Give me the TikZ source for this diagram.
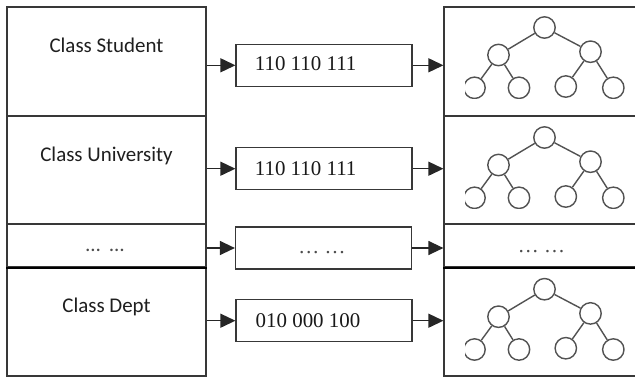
\documentclass[tikz,border=0pt]{standalone}
\usepackage{fontspec}
\setmainfont{Liberation Serif}
\newfontfamily\labelfont{Carlito}
\usetikzlibrary{arrows.meta}

\tikzset{
  tnode/.style={circle, draw=black!68, line width=1.4bp, minimum size=21.4bp, inner sep=0pt},
  tedge/.style={draw=black!68, line width=1.4bp},
  % small binary tree, cropped at the left and bottom
  bintree/.pic={
    \begin{scope}
      \clip (-79.5,-15) rectangle (90,71);
      \node[tnode] (r)  at (0,0) {};
      \node[tnode] (a)  at (-46,27.5) {};
      \node[tnode] (b)  at (46,24.2) {};
      \node[tnode] (a1) at (-70,60.3) {};
      \node[tnode] (a2) at (-25.5,60.3) {};
      \node[tnode] (b1) at (21.3,59) {};
      \node[tnode] (b2) at (68.8,60.3) {};
      \draw[tedge] (r) -- (a);
      \draw[tedge] (r) -- (b);
      \draw[tedge] (a) -- (a1);
      \draw[tedge] (a) -- (a2);
      \draw[tedge] (b) -- (b1);
      \draw[tedge] (b) -- (b2);
    \end{scope}
  }
}

\begin{document}
\begin{tikzpicture}[x=1bp,y=-1bp,
  frame/.style={draw=black!78, line width=1.2bp},
  cell/.style={frame, rectangle, inner sep=0pt, minimum width=199bp},
  rcell/.style={frame, rectangle, inner sep=0pt, minimum width=196bp},
  midbox/.style={frame, rectangle, inner sep=0pt, minimum width=176bp, minimum height=42bp},
  cls/.style={font=\labelfont\fontsize{21}{24}\selectfont, text=black!88, inner sep=0pt, anchor=base},
  bits/.style={font=\fontsize{21}{24}\selectfont, text=black!90, inner sep=0pt, anchor=base west},
  dots/.style={font=\fontsize{21}{24}\selectfont, text=black!70, inner sep=0pt, anchor=base},
  arr/.style={draw=black!85, line width=1.3bp, -{Triangle[length=15bp,width=14bp]}},
  sepline/.style={draw=black, line width=2.2bp},
]
\clip (0,0) rectangle (635,378);
\fill[white] (0,0) rectangle (635,378);

% class column
\node[cell, minimum height=109bp] (L1) at (106.5,61.5) {};
\node[cell, minimum height=108bp] (L2) at (106.5,170) {};
\node[cell, minimum height=43bp]  (L3) at (106.5,245.5) {};
\node[cell, minimum height=109bp] (L4) at (106.5,321.5) {};
\draw[sepline] (L3.south west) -- (L3.south east);

\node[cls] (t1) at (106.5,52.5) {Class Student};
\node[cls] (t2) at (106.5,161.5) {Class University};
\node[dots, font=\labelfont\fontsize{21}{24}\selectfont] (t3) at (105,251.5) {…\ \ …};
\node[cls] (t4) at (106.5,312.5) {Class Dept};

% tree column
\node[rcell, minimum height=109bp] (R1) at (542,61.5) {};
\node[rcell, minimum height=108bp] (R2) at (542,170) {};
\node[rcell, minimum height=43bp]  (R3) at (542,245.5) {};
\node[rcell, minimum height=109bp] (R4) at (542,321.5) {};
\draw[sepline] (R3.south west) -- (R3.south east);

\pic (T1) at (544.5,27.5) {bintree};
\pic (T2) at (544.5,137.5) {bintree};
\pic (T4) at (544.5,289.2) {bintree};
\node[dots] (r3) at (541.5,252) {… …};

% bit-string boxes
\node[midbox] (M1) at (324,65.3) {};
\node[midbox] (M2) at (324,168.7) {};
\node[midbox] (M3) at (323.5,248) {};
\node[midbox] (M4) at (324,320.7) {};

\node[bits] (b1) at (254.7,70.7) {110 110 111};
\node[bits] (b2) at (254.7,175) {110 110 111};
\node[dots] (b3) at (322,253.5) {… …};
\node[bits] (b4) at (255.5,327.3) {010 000 100};

% connectors
\foreach \i in {1,2,3,4}{
  \draw[arr] (M\i.west -| L\i.east) -- (M\i.west);
  \draw[arr] (M\i.east) -- (M\i.east -| R\i.west);
}
\end{tikzpicture}
\end{document}
